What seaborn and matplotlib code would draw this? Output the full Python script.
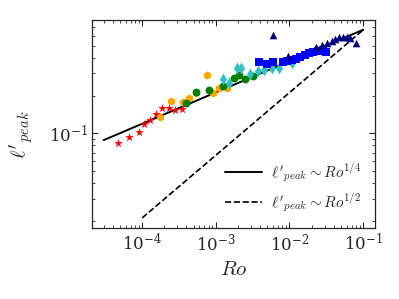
import matplotlib
matplotlib.use("Agg")
import matplotlib.pyplot as plt
import matplotlib.ticker as mticker
import seaborn as sns
import numpy as np

# data (Ro, l'_peak) per group
ro_red = [4.77e-5, 6.70e-5, 9.05e-5, 1.05e-4, 1.27e-4, 1.55e-4, 1.88e-4, 2.34e-4, 2.81e-4, 3.46e-4]
l_red = [0.0843, 0.0934, 0.1015, 0.1186, 0.1277, 0.1413, 0.1585, 0.160, 0.152, 0.156]

ro_orange = [1.73e-4, 2.47e-4, 3.56e-4, 4.30e-4, 5.41e-4, 7.62e-4, 9.25e-4, 1.11e-3, 1.41e-3]
l_orange = [0.134, 0.180, 0.177, 0.190, 0.211, 0.290, 0.210, 0.231, 0.231]

ro_green = [3.95e-4, 5.32e-4, 8.04e-4, 1.27e-3, 1.77e-3, 2.07e-3, 2.46e-3, 3.24e-3]
l_green = [0.175, 0.212, 0.220, 0.240, 0.275, 0.294, 0.272, 0.287]

ro_teal = [1.27e-3, 1.53e-3, 1.93e-3, 2.22e-3, 2.87e-3, 3.73e-3, 4.52e-3, 5.71e-3, 7.22e-3, 1.07e-2]
l_teal = [0.270, 0.252, 0.330, 0.330, 0.299, 0.312, 0.322, 0.334, 0.333, 0.366]

ro_blue = [3.91e-3, 4.92e-3, 6.00e-3, 8.11e-3, 9.28e-3, 1.08e-2, 1.23e-2, 1.39e-2,
           1.60e-2, 1.82e-2, 2.09e-2, 2.44e-2, 2.81e-2, 3.14e-2]
l_blue = [0.373, 0.355, 0.373, 0.370, 0.377, 0.384, 0.394, 0.406,
          0.421, 0.434, 0.447, 0.457, 0.461, 0.445]

ro_navy = [6.05e-3, 9.57e-3, 2.30e-2, 2.74e-2, 3.21e-2, 3.72e-2, 4.16e-2,
           4.71e-2, 5.33e-2, 6.00e-2, 6.64e-2, 7.88e-2]
l_navy = [0.603, 0.413, 0.488, 0.506, 0.527, 0.547, 0.562,
          0.581, 0.586, 0.583, 0.570, 0.522]

# scaling-law guide lines
ro_quarter = [3e-5, 1e-1]
ro_half = [1e-4, 1e-1]
c_quarter = 1.19
c_half = 2.11

sns.set_style("ticks")
plt.rcParams["mathtext.fontset"] = "cm"
plt.rcParams["font.family"] = ["DejaVu Serif"]

fig = plt.figure(figsize=(3.99, 2.99), dpi=100)
ax = fig.add_axes([0.231, 0.237, 0.709, 0.696])

groups = [
    (ro_red, l_red, "*", "#ff0000", 42),
    (ro_orange, l_orange, "h", "#ffa500", 34),
    (ro_green, l_green, "o", "#008000", 32),
    (ro_teal, l_teal, "d", "#33c0c0", 36),
    (ro_blue, l_blue, "s", "#0000ff", 30),
    (ro_navy, l_navy, "^", "#000080", 30),
]
for xs, ys, m, c, s in groups:
    sns.scatterplot(x=xs, y=ys, marker=m, color=c, s=s, linewidth=0, ax=ax, zorder=3)

xq = np.array(ro_quarter)
xh = np.array(ro_half)
ax.plot(xq, c_quarter * xq ** 0.25, color="black", lw=1.4, zorder=2,
        label=r"$\ell'_{peak}\sim Ro^{1/4}$")
ax.plot(xh, c_half * xh ** 0.5, color="black", lw=1.2, ls="--", zorder=2,
        label=r"$\ell'_{peak}\sim Ro^{1/2}$")

ax.set_xscale("log")
ax.set_yscale("log")
ax.set_xlim(2.1e-5, 1.45e-1)
ax.set_ylim(0.0175, 0.80)
ax.yaxis.set_minor_formatter(mticker.NullFormatter())
ax.xaxis.set_major_locator(mticker.LogLocator(base=10, numticks=10))

ax.tick_params(which="both", direction="in", top=True, right=True)
ax.tick_params(which="major", length=4, width=0.8, labelsize=12)
ax.tick_params(which="minor", length=2, width=0.6)
for sp in ax.spines.values():
    sp.set_linewidth(0.9)

ax.set_xlabel(r"$Ro$", fontsize=15)
ax.set_ylabel(r"$\ell'_{peak}$", fontsize=15, labelpad=6)
ax.yaxis.set_label_coords(-0.2, 0.45)

ax.legend(loc="lower right", frameon=False, fontsize=11, handlelength=2.4,
          handletextpad=0.6)

fig.savefig("out.png", dpi=100)
